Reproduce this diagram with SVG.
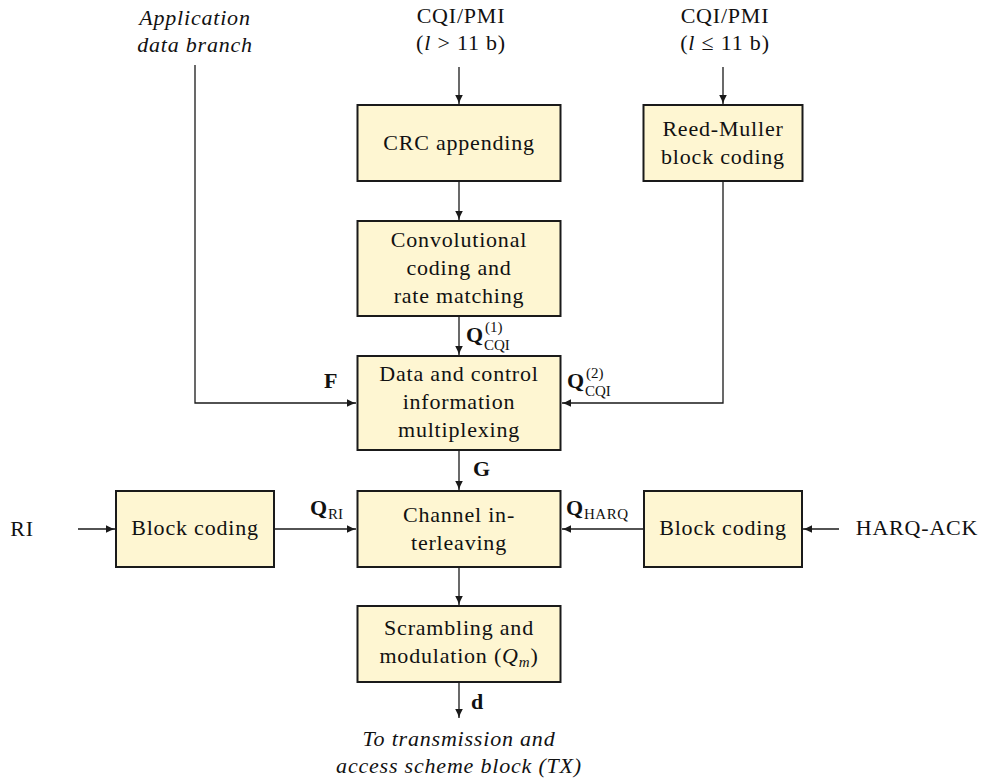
<svg xmlns="http://www.w3.org/2000/svg" width="989" height="780" viewBox="0 0 989 780">
  <style>
    .box { fill: #FEF6D2; stroke: #1a1a1a; stroke-width: 2; }
    .lbl { font-family: "Liberation Serif", "Times New Roman", serif; font-size: 22px; letter-spacing: 0.8px; fill: #111111; text-anchor: middle; }
    .it { font-style: italic; }
    .math { font-family: "Liberation Serif", "Times New Roman", serif; fill: #111111; }
    .bold { font-weight: bold; font-size: 22px; }
    .sub { font-size: 15px; }
    .wire { fill: none; stroke: #1a1a1a; stroke-width: 1.3; }
  </style>
  <defs>
    <marker id="arrow" markerUnits="userSpaceOnUse" markerWidth="12" markerHeight="10" viewBox="-10 -5 12 10" refX="0" refY="0" orient="auto">
      <path d="M-9,-3.8 Q-4,-1 0,0 Q-4,1 -9,3.8 z" fill="#1a1a1a"/>
    </marker>
  </defs>

  <rect width="989" height="780" fill="#ffffff"/>

  <!-- connectors -->
  <g id="connectors">
    <line class="wire" x1="459" y1="67" x2="459" y2="104" marker-end="url(#arrow)"/>
    <line class="wire" x1="723" y1="67" x2="723" y2="104" marker-end="url(#arrow)"/>
    <line class="wire" x1="459" y1="182" x2="459" y2="220" marker-end="url(#arrow)"/>
    <line class="wire" x1="459" y1="317" x2="459" y2="355" marker-end="url(#arrow)"/>
    <line class="wire" x1="459" y1="451" x2="459" y2="490" marker-end="url(#arrow)"/>
    <line class="wire" x1="459" y1="568" x2="459" y2="605" marker-end="url(#arrow)"/>
    <line class="wire" x1="459" y1="683" x2="459" y2="718" marker-end="url(#arrow)"/>
    <path class="wire" d="M195,65 V403 H356" marker-end="url(#arrow)"/>
    <path class="wire" d="M723,182 V403 H562" marker-end="url(#arrow)"/>
    <line class="wire" x1="78" y1="529" x2="115" y2="529" marker-end="url(#arrow)"/>
    <line class="wire" x1="275" y1="529" x2="356" y2="529" marker-end="url(#arrow)"/>
    <line class="wire" x1="839" y1="529" x2="803" y2="529" marker-end="url(#arrow)"/>
    <line class="wire" x1="643" y1="529" x2="562" y2="529" marker-end="url(#arrow)"/>
  </g>

  <!-- processing blocks -->
  <g id="crc">
    <rect class="box" x="357.5" y="105" width="203" height="76"/>
    <text class="lbl" x="459" y="150">CRC appending</text>
  </g>
  <g id="reed-muller">
    <rect class="box" x="643.5" y="105" width="159" height="76"/>
    <text class="lbl" x="723" y="136">Reed-Muller</text>
    <text class="lbl" x="723" y="164">block coding</text>
  </g>
  <g id="convolutional">
    <rect class="box" x="357.5" y="221" width="203" height="95"/>
    <text class="lbl" x="459" y="247">Convolutional</text>
    <text class="lbl" x="459" y="275">coding and</text>
    <text class="lbl" x="459" y="303">rate matching</text>
  </g>
  <g id="multiplexing">
    <rect class="box" x="357.5" y="356" width="203" height="94"/>
    <text class="lbl" x="459" y="381">Data and control</text>
    <text class="lbl" x="459" y="409">information</text>
    <text class="lbl" x="459" y="437">multiplexing</text>
  </g>
  <g id="interleaving">
    <rect class="box" x="357.5" y="491" width="203" height="76"/>
    <text class="lbl" x="459" y="522">Channel in-</text>
    <text class="lbl" x="459" y="550">terleaving</text>
  </g>
  <g id="block-coding-ri">
    <rect class="box" x="116" y="491" width="158" height="76"/>
    <text class="lbl" x="195" y="535">Block coding</text>
  </g>
  <g id="block-coding-harq">
    <rect class="box" x="644" y="491" width="158" height="76"/>
    <text class="lbl" x="723" y="535">Block coding</text>
  </g>
  <g id="scrambling">
    <rect class="box" x="357.5" y="606" width="203" height="76"/>
    <text class="lbl" x="459" y="635">Scrambling and</text>
    <text class="lbl" x="459" y="663">modulation (<tspan class="it">Q</tspan><tspan class="it" font-size="15" dy="4">m</tspan><tspan dy="-4">)</tspan></text>
  </g>

  <!-- inputs and outputs -->
  <g id="app-data">
    <text class="lbl it" x="195" y="25">Application</text>
    <text class="lbl it" x="195" y="52">data branch</text>
  </g>
  <g id="cqi-long">
    <text class="lbl" x="461" y="23">CQI/PMI</text>
    <text class="lbl" x="461" y="50">(<tspan class="it">l</tspan> &gt; 11 b)</text>
  </g>
  <g id="cqi-short">
    <text class="lbl" x="725" y="23">CQI/PMI</text>
    <text class="lbl" x="725" y="50">(<tspan class="it">l</tspan> ≤ 11 b)</text>
  </g>
  <g id="ri">
    <text class="lbl" x="22" y="536">RI</text>
  </g>
  <g id="harq-ack">
    <text class="lbl" x="917" y="535">HARQ-ACK</text>
  </g>
  <g id="tx">
    <text class="lbl it" x="459" y="746">To transmission and</text>
    <text class="lbl it" x="459" y="773">access scheme block (TX)</text>
  </g>

  <!-- signal labels -->
  <g id="signal-labels">
    <text class="math bold" x="466" y="342">Q</text>
    <text class="math sub" x="485" y="332">(1)</text>
    <text class="math sub" x="484" y="350">CQI</text>

    <text class="math bold" x="567" y="388">Q</text>
    <text class="math sub" x="586" y="378">(2)</text>
    <text class="math sub" x="585" y="396">CQI</text>

    <text class="math bold" x="324" y="388">F</text>
    <text class="math bold" x="473" y="476">G</text>
    <text class="math bold" x="471" y="709">d</text>

    <text class="math bold" x="310" y="515">Q</text>
    <text class="math sub" x="328" y="519">RI</text>

    <text class="math bold" x="566" y="515">Q</text>
    <text class="math sub" x="584" y="519" letter-spacing="0.5">HARQ</text>
  </g>
</svg>
